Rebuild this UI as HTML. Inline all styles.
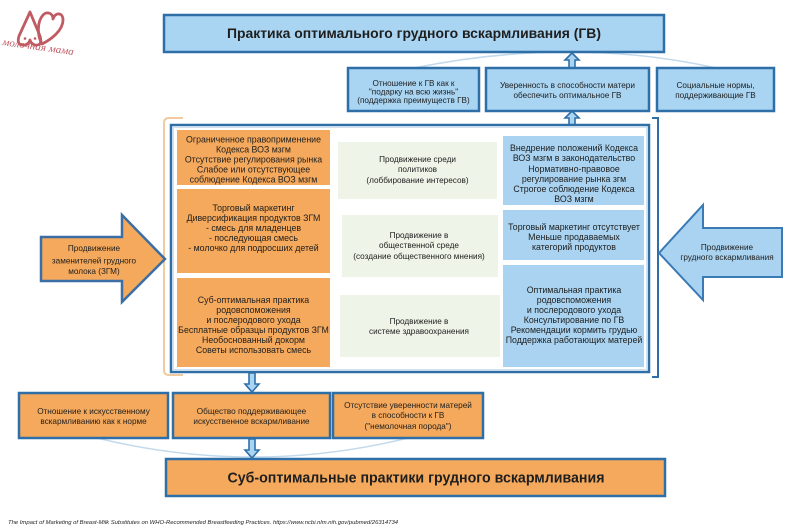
<!DOCTYPE html>
<html>
<head>
<meta charset="utf-8">
<style>
html,body{margin:0;padding:0;background:#fff;}
svg{display:block;}
text{font-family:"Liberation Sans","Noto Sans CJK SC",sans-serif;fill:#1e1e1e;}
.t8{font-size:8.2px;}
.t9{font-size:8.8px;}
</style>
</head>
<body>
<svg width="800" height="529" viewBox="0 0 800 529" xmlns="http://www.w3.org/2000/svg">
<rect x="0" y="0" width="800" height="529" fill="#ffffff"/>

<!-- Logo -->
<g fill="none" stroke="#c05a63" stroke-width="2.8" stroke-linejoin="round" stroke-linecap="round">
  <path d="M30,12 L19,36 Q16,46 25,45 Q29,44 30,40 Q31,44 35,45 Q43,46 40,36 Z"/>
  <path d="M42,44 C37,35 37,22 43,15 C47,11 53,13 53,19 C55,12 63,12 63,20 C63,30 52,39 42,44 Z"/>
</g>
<circle cx="25" cy="38.5" r="1.3" fill="#c05a63"/>
<circle cx="35" cy="38.5" r="1.3" fill="#c05a63"/>
<text x="2" y="45" transform="rotate(8 2 45)" style="font-family:'Liberation Serif',serif;font-style:italic;font-size:10.5px;fill:#c05a63;" textLength="72" lengthAdjust="spacingAndGlyphs">молочная мама</text>

<!-- faint arcs -->
<path d="M414,68 Q572,36 716,68" fill="none" stroke="#c3d9ec" stroke-width="1.5"/>
<path d="M97,438 Q253,476 408,438" fill="none" stroke="#c3d9ec" stroke-width="1.5"/>

<!-- Top title -->
<rect x="164" y="15" width="500" height="37" fill="#a9d4f2" stroke="#2f6fa8" stroke-width="2.5"/>
<text x="414" y="38" text-anchor="middle" style="font-size:14px;font-weight:bold;" textLength="374" lengthAdjust="spacingAndGlyphs">Практика оптимального грудного вскармливания (ГВ)</text>

<!-- up arrows -->
<g fill="#a9d4f2" stroke="#2f6fa8" stroke-width="1.6" stroke-linejoin="miter">
  <polygon points="572,53 579,60 575,60 575,68 569,68 569,60 565,60"/>
  <polygon points="572,111 579,118 575,118 575,125 569,125 569,118 565,118"/>
</g>

<!-- Second row blue boxes -->
<g fill="#a9d4f2" stroke="#2f6fa8" stroke-width="2.5">
  <rect x="348" y="68" width="131" height="43"/>
  <rect x="486" y="68" width="163" height="43"/>
  <rect x="657" y="68" width="117" height="43"/>
</g>
<g class="t8" text-anchor="middle">
  <text x="413.5" y="86">Отношение к ГВ как к</text>
  <text x="413.5" y="94.5">"подарку на всю жизнь"</text>
  <text x="413.5" y="103">(поддержка преимуществ ГВ)</text>
  <text x="567.5" y="88">Уверенность в способности матери</text>
  <text x="567.5" y="98">обеспечить оптимальное ГВ</text>
  <text x="715.5" y="88">Социальные нормы,</text>
  <text x="715.5" y="98">поддерживающие ГВ</text>
</g>

<!-- brackets -->
<path d="M183,118 L169,118 Q164,118 164,123 L164,370 Q164,375 169,375 L183,375" fill="none" stroke="#f2caa0" stroke-width="2"/>
<path d="M652,118 L658,118 L658,377 L652,377" fill="none" stroke="#2f6fa8" stroke-width="2"/>

<!-- main frame -->
<rect x="171" y="125" width="478" height="247" fill="#ffffff" stroke="#2f6fa8" stroke-width="2.5"/>
<rect x="173.5" y="127.5" width="473" height="242" fill="none" stroke="#cfe2f2" stroke-width="1"/>

<!-- orange column -->
<g fill="#f5a95c">
  <rect x="177" y="130" width="153" height="55"/>
  <rect x="177" y="189" width="153" height="84"/>
  <rect x="177" y="278" width="153" height="89"/>
</g>
<g class="t9" text-anchor="middle">
  <text x="253.5" y="142.5">Ограниченное правоприменение</text>
  <text x="253.5" y="152.5">Кодекса ВОЗ мзгм</text>
  <text x="253.5" y="162.5">Отсутствие регулирования рынка</text>
  <text x="253.5" y="172.5">Слабое или отсутствующее</text>
  <text x="253.5" y="182.5">соблюдение Кодекса ВОЗ мзгм</text>

  <text x="253.5" y="211">Торговый маркетинг</text>
  <text x="253.5" y="221">Диверсификация продуктов ЗГМ</text>
  <text x="253.5" y="231">- смесь для младенцев</text>
  <text x="253.5" y="241">- последующая смесь</text>
  <text x="253.5" y="251">- молочко для подросших детей</text>

  <text x="253.5" y="303">Суб-оптимальная практика</text>
  <text x="253.5" y="313">родовспоможения</text>
  <text x="253.5" y="323">и послеродового ухода</text>
  <text x="253.5" y="333">Бесплатные образцы продуктов ЗГМ</text>
  <text x="253.5" y="343">Необоснованный докорм</text>
  <text x="253.5" y="353">Советы использовать смесь</text>
</g>

<!-- green column -->
<g fill="#eef4e7">
  <rect x="338" y="142" width="159" height="57"/>
  <rect x="342" y="215" width="156" height="62"/>
  <rect x="340" y="295" width="160" height="62"/>
</g>
<g class="t8" text-anchor="middle">
  <text x="417.5" y="162">Продвижение среди</text>
  <text x="417.5" y="172">политиков</text>
  <text x="417.5" y="183">(лоббирование интересов)</text>

  <text x="419" y="238">Продвижение в</text>
  <text x="419" y="248">общественной среде</text>
  <text x="419" y="259">(создание общественного мнения)</text>

  <text x="419" y="324">Продвижение в</text>
  <text x="419" y="334">системе здравоохранения</text>
</g>

<!-- blue column -->
<g fill="#a9d3f0">
  <rect x="503" y="136" width="141" height="69"/>
  <rect x="503" y="210" width="141" height="50"/>
  <rect x="503" y="265" width="141" height="102"/>
</g>
<g class="t9" text-anchor="middle">
  <text x="574" y="151">Внедрение положений Кодекса</text>
  <text x="574" y="161">ВОЗ мзгм в законодательство</text>
  <text x="574" y="172">Нормативно-правовое</text>
  <text x="574" y="182">регулирование рынка згм</text>
  <text x="574" y="192">Строгое соблюдение Кодекса</text>
  <text x="574" y="202">ВОЗ мзгм</text>

  <text x="574" y="230">Торговый маркетинг отсутствует</text>
  <text x="574" y="240">Меньше продаваемых</text>
  <text x="574" y="250">категорий продуктов</text>

  <text x="574" y="293">Оптимальная практика</text>
  <text x="574" y="303">родовспоможения</text>
  <text x="574" y="313">и послеродового ухода</text>
  <text x="574" y="323">Консультирование по ГВ</text>
  <text x="574" y="333">Рекомендации кормить грудью</text>
  <text x="574" y="343">Поддержка работающих матерей</text>
</g>

<!-- left big arrow -->
<polygon points="41,237 122,237 122,215 165,259 122,302 122,281 41,281" fill="#f5a95c" stroke="#3a6ea5" stroke-width="2.5" stroke-linejoin="miter"/>
<g class="t8" text-anchor="middle">
  <text x="94" y="251">Продвижение</text>
  <text x="94" y="263.5">заменителей грудного</text>
  <text x="94" y="274">молока (ЗГМ)</text>
</g>

<!-- right big arrow -->
<polygon points="782,228 703,228 703,205 659,253 703,300 703,277 782,277" fill="#a9d3f0" stroke="#3a7ab5" stroke-width="2" stroke-linejoin="miter"/>
<g class="t8" text-anchor="middle">
  <text x="727" y="250">Продвижение</text>
  <text x="727" y="260">грудного вскармливания</text>
</g>

<!-- down arrows -->
<g fill="#a9d4f2" stroke="#2f6fa8" stroke-width="1.6" stroke-linejoin="miter">
  <polygon points="249,373 255,373 255,384 259,384 252,392 245,384 249,384"/>
  <polygon points="249,439 255,439 255,450 259,450 252,458 245,450 249,450"/>
</g>

<!-- bottom orange boxes -->
<g fill="#f5a95c" stroke="#2f6fa8" stroke-width="2.5">
  <rect x="19" y="393" width="149" height="45"/>
  <rect x="173" y="393" width="157" height="45"/>
  <rect x="333" y="393" width="150" height="45"/>
</g>
<g class="t8" text-anchor="middle">
  <text x="93.5" y="414">Отношение к искусственному</text>
  <text x="93.5" y="424">вскармливанию как к норме</text>
  <text x="251.5" y="414">Общество поддерживающее</text>
  <text x="251.5" y="424">искусственное вскармливание</text>
  <text x="408" y="408">Отсутствие уверенности матерей</text>
  <text x="408" y="418">в способности к ГВ</text>
  <text x="408" y="429">("немолочная порода")</text>
</g>

<!-- bottom title -->
<rect x="166" y="459" width="499" height="37" fill="#f5a95c" stroke="#2f6fa8" stroke-width="2.5"/>
<text x="416" y="482.5" text-anchor="middle" style="font-size:15px;font-weight:bold;" textLength="377" lengthAdjust="spacingAndGlyphs">Суб-оптимальные практики грудного вскармливания</text>

<!-- footer -->
<text x="8" y="524" style="font-size:5.8px;font-style:italic;" textLength="390" lengthAdjust="spacingAndGlyphs">The Impact of Marketing of Breast-Milk Substitutes on WHO-Recommended Breastfeeding Practices. https://www.ncbi.nlm.nih.gov/pubmed/26314734</text>
</svg>
</body>
</html>
